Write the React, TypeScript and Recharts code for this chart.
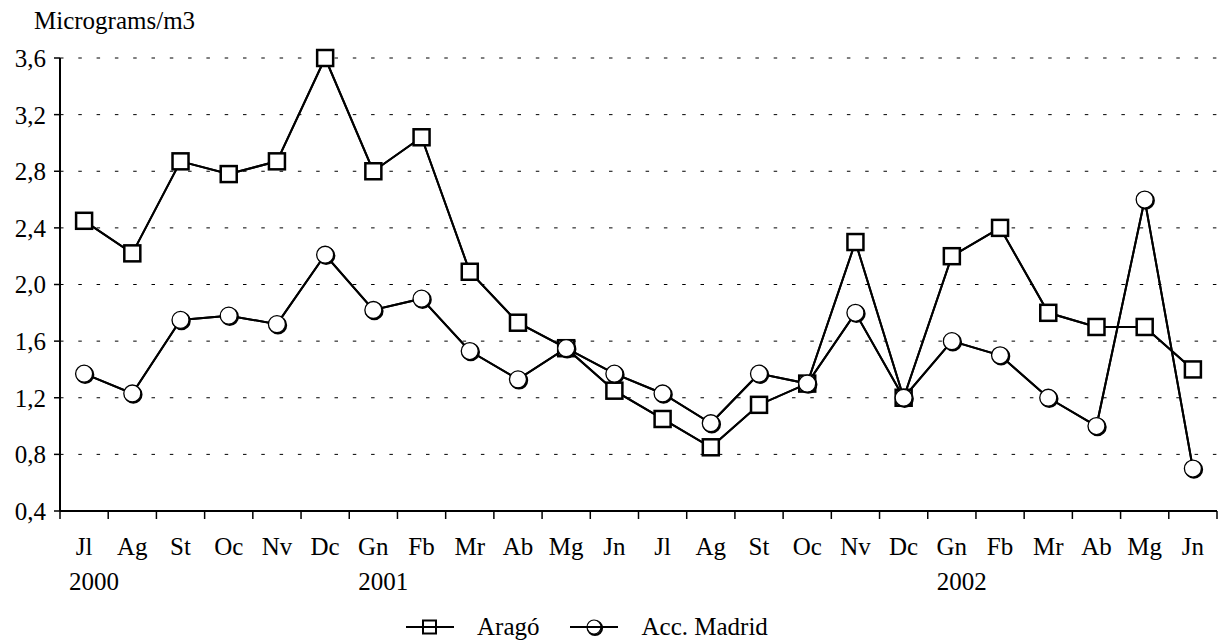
import React from "react";
import { LineChart, Line, XAxis, YAxis, CartesianGrid } from "recharts";

/* ── Data ─────────────────────────────────────────────────── */
const months = [
  "Jl", "Ag", "St", "Oc", "Nv", "Dc", "Gn", "Fb", "Mr", "Ab", "Mg", "Jn",
  "Jl", "Ag", "St", "Oc", "Nv", "Dc", "Gn", "Fb", "Mr", "Ab", "Mg", "Jn",
];
const years = [
  "2000", "", "", "", "", "", "2001", "", "", "", "", "",
  "", "", "", "", "", "", "2002", "", "", "", "", "",
];
const arago = [
  2.45, 2.22, 2.87, 2.78, 2.87, 3.6, 2.8, 3.04, 2.09, 1.73, 1.55, 1.25,
  1.05, 0.85, 1.15, 1.3, 2.3, 1.2, 2.2, 2.4, 1.8, 1.7, 1.7, 1.4,
];
const madrid = [
  1.37, 1.23, 1.75, 1.78, 1.72, 2.21, 1.82, 1.9, 1.53, 1.33, 1.55, 1.37,
  1.23, 1.02, 1.37, 1.3, 1.8, 1.2, 1.6, 1.5, 1.2, 1.0, 2.6, 0.7,
];
const yTicks = [0.4, 0.8, 1.2, 1.6, 2.0, 2.4, 2.8, 3.2, 3.6];

const data = months.map((m, i) => ({
  x: i + 0.5,
  month: m,
  arago: arago[i],
  madrid: madrid[i],
}));
const xTicks = months.map((_, i) => i).concat(months.length);

/* ── Layout ───────────────────────────────────────────────── */
const W = 1220;
const H = 642;
const LEFT = 60;
const RIGHT = 3;
const BAND = (W - LEFT - RIGHT) / months.length;
const FONT = "'Liberation Serif', 'Times New Roman', serif";
const FS = 25;

const SquareDot = (props: any) => {
  const { cx, cy } = props;
  if (cx == null || cy == null) return <g />;
  return (
    <rect x={cx - 8} y={cy - 8} width={16} height={16} fill="#fff" stroke="#000" strokeWidth={2.5} />
  );
};

const CircleDot = (props: any) => {
  const { cx, cy } = props;
  if (cx == null || cy == null) return <g />;
  return (
    <g>
      <circle cx={cx + 1} cy={cy + 1} r={8} fill="none" stroke="#000" strokeWidth={2.5} />
      <circle cx={cx} cy={cy} r={8.5} fill="#fff" stroke="#000" strokeWidth={1.3} />
    </g>
  );
};

const MonthTick = (props: any) => {
  const { x, payload } = props;
  const i = payload.value;
  if (i >= months.length) return <g />;
  const cx = x + BAND / 2;
  return (
    <g fontFamily={FONT} fontSize={FS} fill="#000">
      <text x={cx} y={555} textAnchor="middle">{months[i]}</text>
      {years[i] && (
        <text x={cx + 10} y={590} textAnchor="middle">{years[i]}</text>
      )}
    </g>
  );
};

export default function App() {
  return (
    <div style={{ position: "absolute", left: 0, top: 0, width: W, height: H, background: "#fff", fontFamily: FONT }}>
      <div style={{ position: "absolute", left: 34, top: 6, fontSize: FS, lineHeight: "30px", color: "#000" }}>
        Micrograms/m3
      </div>
      <LineChart width={W} height={H} data={data} margin={{ top: 58, right: RIGHT, bottom: 0, left: 0 }}>
        <CartesianGrid
          horizontal
          vertical={false}
          stroke="#000"
          strokeWidth={1}
          strokeDasharray="3.5 14.8"
        />
        <XAxis
          dataKey="x"
          type="number"
          domain={[0, months.length]}
          ticks={xTicks}
          interval={0}
          height={H - 511}
          axisLine={{ stroke: "#000", strokeWidth: 2 }}
          tickLine={{ stroke: "#000", strokeWidth: 1.5 }}
          tickSize={8}
          tick={<MonthTick />}
        />
        <YAxis
          type="number"
          domain={[0.4, 3.6]}
          ticks={yTicks}
          interval={0}
          width={LEFT}
          axisLine={{ stroke: "#000", strokeWidth: 2 }}
          tickLine={{ stroke: "#000", strokeWidth: 1.5 }}
          tickSize={6}
          tickMargin={8}
          tick={{ fill: "#000", fontSize: FS, fontFamily: FONT }}
          tickFormatter={(v: number) => v.toFixed(1).replace(".", ",")}
        />
        <Line dataKey="arago" stroke="#000" strokeWidth={2} dot={<SquareDot />} isAnimationActive={false} />
        <Line dataKey="madrid" stroke="#000" strokeWidth={2} dot={<CircleDot />} isAnimationActive={false} />
        <Line dataKey="arago" stroke="#000" strokeWidth={2} dot={false} activeDot={false} isAnimationActive={false} />
        <Line dataKey="madrid" stroke="#000" strokeWidth={2} dot={false} activeDot={false} isAnimationActive={false} />
      </LineChart>
      <div style={{ position: "absolute", left: 405, top: 612, height: 30, display: "flex", alignItems: "center", fontSize: FS, color: "#000" }}>
        <svg width={50} height={20}>
          <line x1={1} y1={10} x2={49} y2={10} stroke="#000" strokeWidth={2} />
          <rect x={18} y={3.5} width={13} height={13} fill="#fff" stroke="#000" strokeWidth={2} />
          <line x1={18} y1={10} x2={31} y2={10} stroke="#000" strokeWidth={2} />
        </svg>
        <span style={{ marginLeft: 22 }}>Aragó</span>
        <svg width={50} height={20} style={{ marginLeft: 30 }}>
          <line x1={1} y1={10} x2={49} y2={10} stroke="#000" strokeWidth={2} />
          <circle cx={26} cy={11} r={7} fill="none" stroke="#000" strokeWidth={2.2} />
          <circle cx={25} cy={10} r={7} fill="#fff" stroke="#000" strokeWidth={1.2} />
          <line x1={17} y1={10} x2={33} y2={10} stroke="#000" strokeWidth={2} />
        </svg>
        <span style={{ marginLeft: 22 }}>Acc. Madrid</span>
      </div>
    </div>
  );
}
